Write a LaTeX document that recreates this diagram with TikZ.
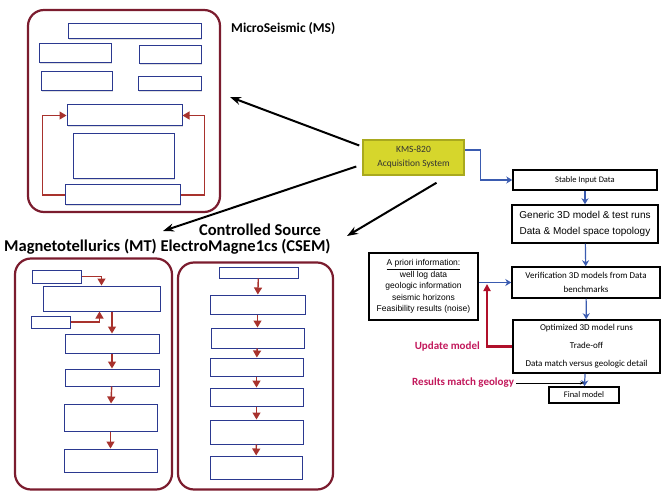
\documentclass[tikz,border=0pt]{standalone}
\usepackage{fontspec}
\setmainfont{Carlito}
\newfontfamily\arialfont{Liberation Sans}
\usetikzlibrary{arrows.meta, shadows}
\definecolor{panelred}{HTML}{7B1C2E}
\definecolor{boxblue}{HTML}{2B3990}
\definecolor{linkred}{HTML}{A8322D}
\definecolor{kmsyellow}{HTML}{D6D62C}
\definecolor{kmsedge}{HTML}{A9A91E}
\definecolor{flowblue}{HTML}{3A5BB0}
\definecolor{updred}{HTML}{B0102A}
\definecolor{updtext}{HTML}{C2185B}
\tikzstyle{panel}=[rectangle,draw=panelred,line width=2.2pt,
  rounded corners=16pt]
\tikzstyle{blank}=[rectangle,draw=boxblue,line width=1pt,fill=white,
  inner sep=0pt,drop shadow={opacity=0.25,shadow xshift=1pt,shadow yshift=-1pt}]
\tikzstyle{linkarr}=[-{Triangle[length=7pt,width=8pt]},draw=linkred,line width=1.4pt]
\tikzstyle{bigarr}=[-{Stealth[length=11pt,width=8pt]},line width=2pt,draw=black]
\tikzstyle{flowbox}=[rectangle,draw=black,line width=1.5pt,fill=white,
  align=center,inner sep=1pt]
\tikzstyle{flowarr}=[-{Stealth[length=6pt,width=7pt]},draw=flowblue,line width=1.2pt]
\tikzstyle{title}=[font=\fontsize{16.5}{18}\selectfont\bfseries,inner sep=0pt]

\begin{document}
\begin{tikzpicture}[x=1pt,y=-1pt]
  \useasboundingbox (0,0) rectangle (662,492);

  % MicroSeismic panel
  \node[panel,minimum width=192pt,minimum height=202pt] (ms) at (124,111) {};
  \node[blank,minimum width=133pt,minimum height=15pt] (m1) at (134.5,31.5) {};
  \node[blank,minimum width=72pt,minimum height=19pt] (m2) at (75,53.5) {};
  \node[blank,minimum width=62pt,minimum height=18pt] (m3) at (170,55) {};
  \node[blank,minimum width=71pt,minimum height=19pt] (m4) at (76.5,81.5) {};
  \node[blank,minimum width=63pt,minimum height=14pt] (m5) at (169.5,84) {};
  \node[blank,minimum width=115pt,minimum height=21pt] (ma) at (124.5,115.5) {};
  \node[blank,minimum width=101pt,minimum height=45pt] (mb) at (123.5,156.5) {};
  \node[blank,minimum width=115pt,minimum height=20pt] (mc) at (122.5,195) {};
  \draw[linkarr,{Triangle[length=7pt,width=8pt]}-] (ma.west) -- ++(-24,0) |- (mc.west);
  \draw[linkarr,{Triangle[length=7pt,width=8pt]}-] (ma.east) -- ++(22,0) |- (mc.east);
  \node[anchor=west,inner sep=0pt,font=\fontsize{13.5}{15}\selectfont\bfseries] (mslabel)
    at (231,29) {MicroSeismic (MS)};

  % MT panel
  \node[panel,minimum width=157pt,minimum height=231pt] (mt) at (93.5,374) {};
  \node[blank,minimum width=49pt,minimum height=13pt] (t1) at (56.5,276.5) {};
  \node[blank,minimum width=117pt,minimum height=25pt] (t2) at (101.5,298.5) {};
  \node[blank,minimum width=39pt,minimum height=12pt] (t3) at (50.5,322) {};
  \node[blank,minimum width=94pt,minimum height=19pt] (t4) at (112,343.5) {};
  \node[blank,minimum width=94pt,minimum height=17pt] (t5) at (112,377.5) {};
  \node[blank,minimum width=93pt,minimum height=27pt] (t6) at (110.5,417.5) {};
  \node[blank,minimum width=93pt,minimum height=23pt] (t7) at (110.5,460.5) {};
  \draw[linkarr] (t1.east) -| (t2.north);
  \draw[linkarr] (t3.east) -| ([xshift=-2pt]t2.south);
  \draw[linkarr] (t4.north |- t2.south) -- (t4.north);
  \foreach \a/\b in {t4/t5,t5/t6,t6/t7}
    \draw[linkarr] (\a) -- (\b);

  % CSEM panel
  \node[panel,minimum width=155pt,minimum height=227pt] (cs) at (255.5,376) {};
  \node[blank,minimum width=79pt,minimum height=11pt] (c1) at (258.5,272.5) {};
  \node[blank,minimum width=95pt,minimum height=19pt] (c2) at (257.5,304.5) {};
  \node[blank,minimum width=93pt,minimum height=20pt] (c3) at (257.5,338) {};
  \node[blank,minimum width=93pt,minimum height=18pt] (c4) at (256.5,367) {};
  \node[blank,minimum width=93pt,minimum height=18pt] (c5) at (256.5,397) {};
  \node[blank,minimum width=93pt,minimum height=24pt] (c6) at (256.5,432) {};
  \node[blank,minimum width=92pt,minimum height=23pt] (c7) at (256,467.5) {};
  \foreach \a/\b in {c1/c2,c2/c3,c3/c4,c4/c5,c5/c6,c6/c7}
    \draw[linkarr] (\a) -- (\b);

  \node[title] (cslabel) at (260,230) {Controlled Source};
  \node[title,anchor=west] (mtlabel) at (4,247) {Magnetotellurics (MT) ElectroMagne1cs (CSEM)};

  % acquisition system
  \node[rectangle,draw=kmsedge,line width=1.5pt,fill=kmsyellow,
    minimum width=101pt,minimum height=35pt,align=center,text=black!80,
    font=\fontsize{9.5}{14}\selectfont] (kms) at (413.5,157.5)
    {KMS-820\\Acquisition System};
  \coordinate (msin) at (230,97);
  \coordinate (mtin) at (163,231);
  \coordinate (csin) at (347,236);
  \draw[bigarr] ([xshift=-3pt,yshift=12pt]kms.west) -- (msin);
  \draw[bigarr] ([xshift=-6pt,yshift=-9pt]kms.west) -- (mtin);
  \draw[bigarr] ([xshift=23pt,yshift=-7pt]kms.south) -- (csin);

  % modelling work flow
  \node[flowbox,minimum width=144pt,minimum height=20pt,
    font=\fontsize{8.5}{10}\selectfont] (stable) at (585,180) {Stable Input Data};
  \node[flowbox,minimum width=146pt,minimum height=38pt,
    font=\arialfont\fontsize{10}{16}\selectfont] (generic) at (585,224)
    {Generic 3D model \& test runs\\Data \& Model space topology};
  \node[flowbox,minimum width=148pt,minimum height=31pt,
    font=\fontsize{9}{14}\selectfont] (verif) at (586,282.5)
    {Verification 3D models from Data\\benchmarks};
  \node[flowbox,minimum width=147pt,minimum height=53pt,
    font=\fontsize{9}{18}\selectfont] (optim) at (586.5,346.5)
    {Optimized 3D model runs\\Trade-off\\Data match versus geologic detail};
  \node[flowbox,minimum width=70pt,minimum height=16pt,
    font=\fontsize{8.5}{10}\selectfont] (final) at (584,395) {Final model};
  \node[flowbox,minimum width=109pt,minimum height=67pt,
    font=\arialfont\fontsize{8.5}{11.5}\selectfont] (apriori) at (423.5,286.5)
    {\underline{A priori information:}\\well log data\\geologic information\\
     seismic horizons\\Feasibility results (noise)};

  \draw[flowarr] ([yshift=7.5pt]kms.east) -- ++(16,0) |- (stable.west);
  \draw[flowarr] (stable) -- (generic);
  \draw[flowarr] (generic) -- (verif);
  \draw[flowarr] (verif) -- (optim);
  \draw[flowarr] (optim) -- (final);
  \draw[flowarr] (apriori.east |- verif) -- (verif);

  \coordinate (updtip) at (487,284);
  \draw[-{Triangle[length=7pt,width=7pt]},draw=updred,line width=2.2pt]
    (optim.west) -| (updtip);
  \node[anchor=east,inner sep=0pt,text=updtext,
    font=\fontsize{11}{13}\selectfont\bfseries] (update) at (480,347) {Update model};
  \node[anchor=west,inner sep=0pt,text=updtext,
    font=\fontsize{11}{13}\selectfont\bfseries] (results) at (412,383) {Results match geology};
  \draw[-{Stealth[length=4pt,width=3pt]},line width=0.6pt]
    ([xshift=2pt]results.east) -- (results.east -| final.north);
\end{tikzpicture}
\end{document}
